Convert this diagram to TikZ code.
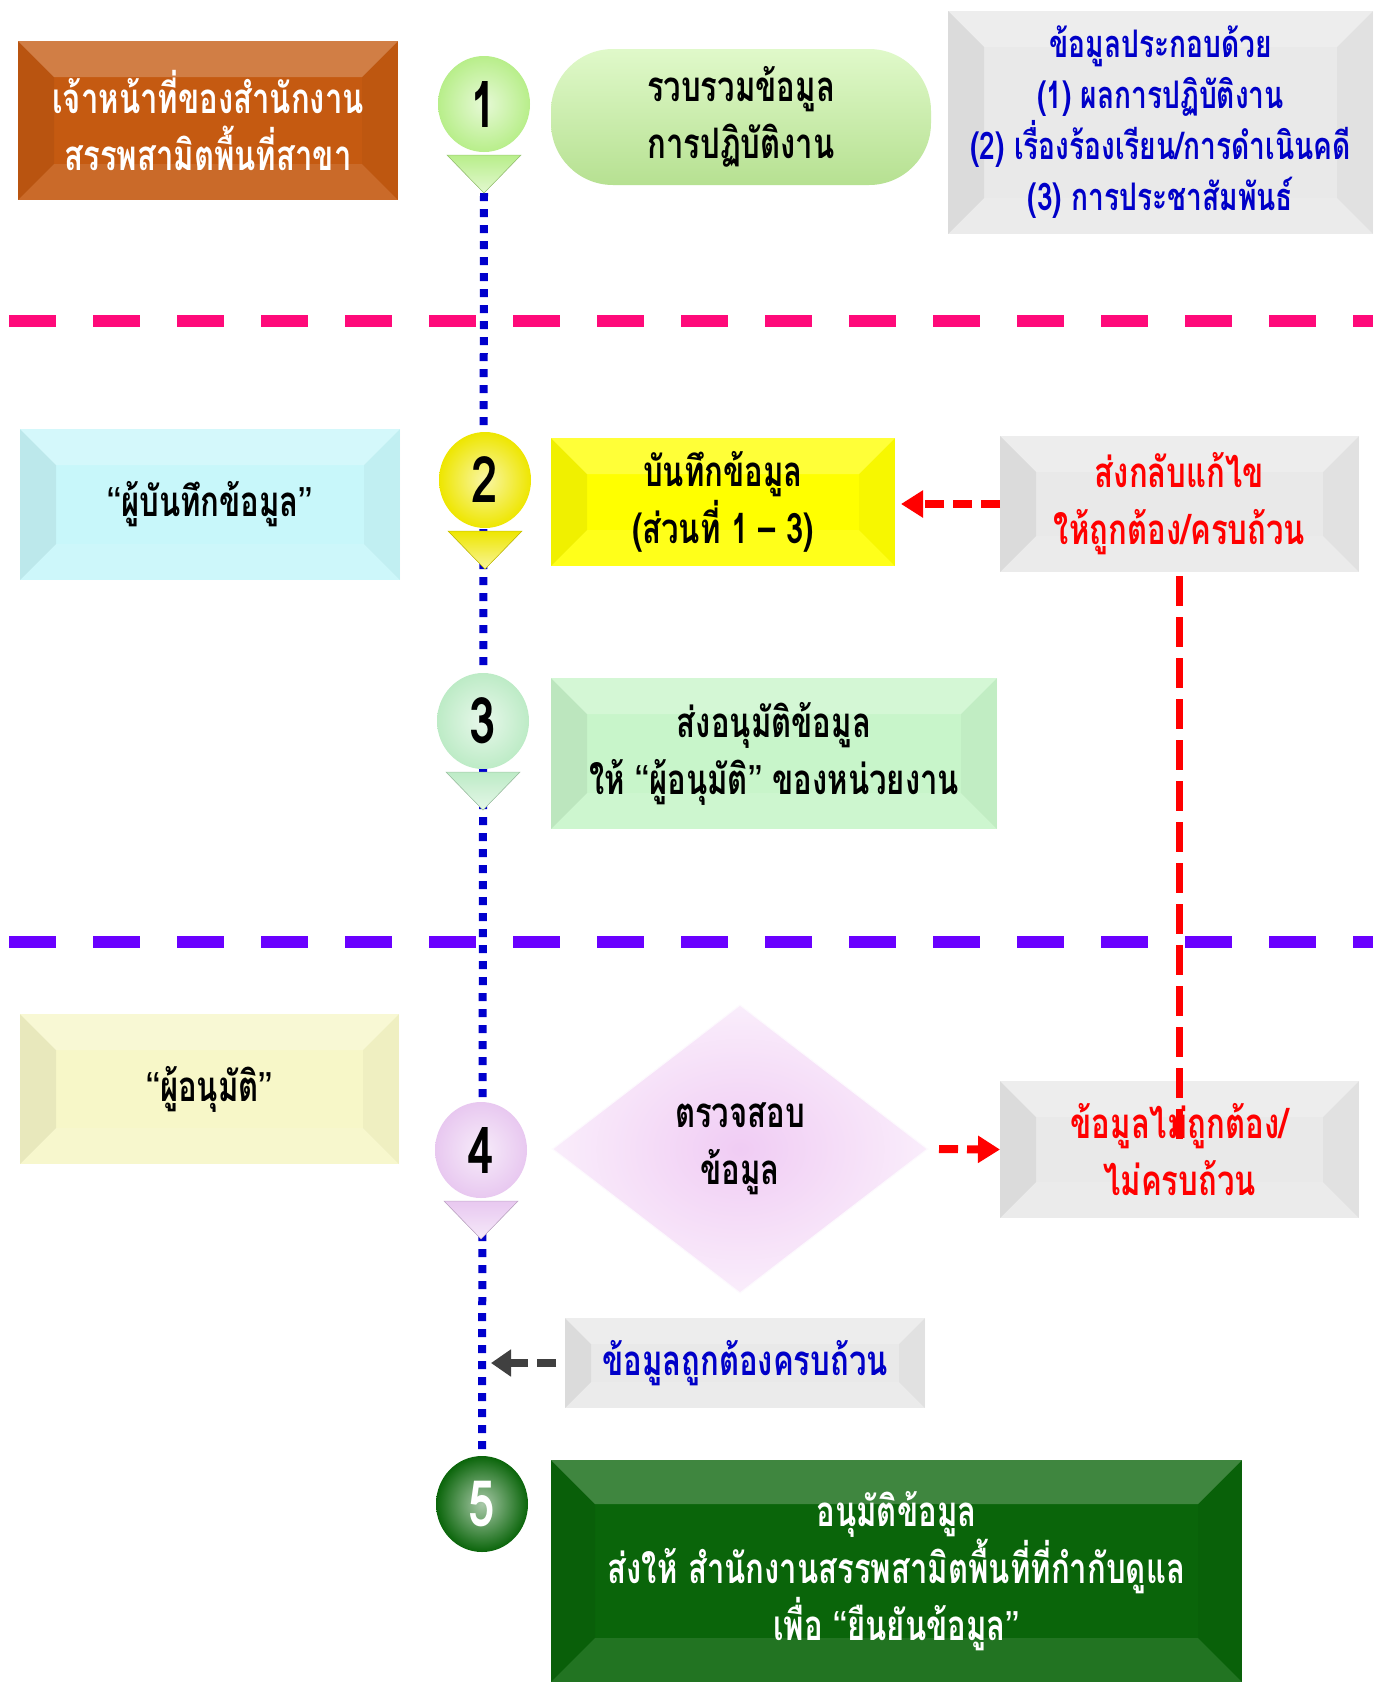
\documentclass[tikz,border=0pt]{standalone}
\usepackage{fontspec}
\setmainfont{Loma}[Script=Thai,FakeStretch=0.74]
\newfontfamily\quotefont{Liberation Sans}
\usetikzlibrary{arrows.meta,shapes.geometric,backgrounds,calc}
\definecolor{cOrange}{HTML}{C55A11}
\definecolor{cPill}{HTML}{C6F49E}
\definecolor{cGray}{HTML}{E9E9E9}
\definecolor{cCyan}{HTML}{C8F7FA}
\definecolor{cYel}{HTML}{FFFF00}
\definecolor{cMint}{HTML}{C8F5CA}
\definecolor{cCream}{HTML}{F7F7C8}
\definecolor{cLila}{HTML}{F0CCF4}
\definecolor{cDkGreen}{HTML}{0A650A}
\definecolor{cBall1}{HTML}{B8EE8A}
\definecolor{cBall2}{HTML}{EEE600}
\definecolor{cBall3}{HTML}{BDEBC6}
\definecolor{cBall4}{HTML}{E8C8F0}
\definecolor{cBlueTxt}{HTML}{0000C8}
\definecolor{cRedTxt}{HTML}{FF0000}
\definecolor{cFlow}{HTML}{0000CC}
\definecolor{cPinkSep}{HTML}{FF0A7A}
\definecolor{cVioSep}{HTML}{6A00FF}
\definecolor{cArrow}{HTML}{404040}
\newcommand{\oq}{{\quotefont\mdseries“}}
\newcommand{\cq}{{\quotefont\mdseries”}}
\tikzset{
  bevel/.style={path picture={
      \coordinate (bvnw) at (path picture bounding box.north west);
      \coordinate (bvne) at (path picture bounding box.north east);
      \coordinate (bvsw) at (path picture bounding box.south west);
      \coordinate (bvse) at (path picture bounding box.south east);
      \fill[white,opacity=.22] (bvnw) -- (bvne) -- ([shift={(-#1,-#1)}]bvne)
        -- ([shift={(#1,-#1)}]bvnw) -- cycle;
      \fill[black,opacity=.06] (bvnw) -- ([shift={(#1,-#1)}]bvnw)
        -- ([shift={(#1,#1)}]bvsw) -- (bvsw) -- cycle;
      \fill[black,opacity=.03] (bvne) -- ([shift={(-#1,-#1)}]bvne)
        -- ([shift={(-#1,#1)}]bvse) -- (bvse) -- cycle;
      \fill[white,opacity=.10] (bvsw) -- ([shift={(#1,#1)}]bvsw)
        -- ([shift={(-#1,#1)}]bvse) -- (bvse) -- cycle;}},
  plainbox/.style={rectangle,inner sep=0pt,outer sep=0pt,align=center,
      font=\bfseries\fontsize{42}{57}\selectfont},
  box/.style={plainbox,bevel=36pt},
  greybox/.style={box,fill=cGray},
  stepball/.style={ellipse,minimum width=92pt,minimum height=96pt,inner sep=0pt,
      outer sep=0pt,font=\bfseries\fontsize{64}{64}\selectfont},
  flowline/.style={draw=cFlow,line width=8pt,dash pattern=on 8pt off 8pt},
  sepline/.style={line width=12pt,dash pattern=on 47pt off 37pt},
  fixline/.style={draw=cRedTxt,line width=7pt,dash pattern=on 30pt off 11pt},
  fixarrow/.style={draw=cRedTxt,line width=8pt,dash pattern=on 19pt off 9pt,
      -{Triangle[length=22pt,width=26pt]}},
  okarrow/.style={draw=cArrow,line width=8pt,dash pattern=on 19pt off 9pt,
      -{Triangle[length=20pt,width=26pt]}},
}
\newcommand{\stepdot}[6]{%
  \node[stepball,shading=radial,inner color=#4!35!white,outer color=#4,text=#5]
    (#1) at (#2,#3) {#6};}
\newcommand{\steptip}[2]{%
  \fill[top color=#2,bottom color=#2!40!white,draw=#2!85!black,line width=0.5pt]
    ([xshift=-37pt,yshift=-3pt]#1.south) -- ([xshift=37pt,yshift=-3pt]#1.south)
    -- ([yshift=-41pt]#1.south) -- cycle;}

\begin{document}
\begin{tikzpicture}[x=1pt,y=-1pt]
  \useasboundingbox (0,0) rectangle (1384,1682);
  \begin{scope}[on background layer]
    \fill[white] (0,0) rectangle (1384,1682);
    \draw[sepline,draw=cPinkSep] (9,321) -- (1373,321);
    \draw[sepline,draw=cVioSep] (9,942) -- (1373,942);
  \end{scope}

  \node[box,fill=cOrange,text=white,minimum width=380pt,minimum height=159pt]
    (office) at (208,120.5) {เจ้าหน้าที่ของสำนักงาน\\สรรพสามิตพื้นที่สาขา};
  \node[plainbox,top color=cPill!55!white,bottom color=cPill!92!black,rounded corners=62pt,
    minimum width=380pt,minimum height=136pt] (collect) at (741,117)
    {รวบรวมข้อมูล\\การปฏิบัติงาน};
  \node[greybox,text=cBlueTxt,font=\bfseries\fontsize{38}{51}\selectfont,
    minimum width=425pt,minimum height=223pt] (info) at (1160.5,122.5)
    {ข้อมูลประกอบด้วย\\(1) ผลการปฏิบัติงาน\\(2) เรื่องร้องเรียน/การดำเนินคดี\\(3) การประชาสัมพันธ์};

  \node[box,fill=cCyan,minimum width=380pt,minimum height=151pt] (recorder)
    at (210,504.5) {\oq ผู้บันทึกข้อมูล\cq};
  \node[box,fill=cYel,minimum width=344pt,minimum height=128pt] (record)
    at (723,502) {บันทึกข้อมูล\\(ส่วนที่ 1 – 3)};
  \node[greybox,text=cRedTxt,minimum width=359pt,minimum height=136pt] (sendback)
    at (1179.5,504) {ส่งกลับแก้ไข\\ให้ถูกต้อง/ครบถ้วน};
  \node[box,fill=cMint,minimum width=446pt,minimum height=151pt] (submit)
    at (774,753.5) {ส่งอนุมัติข้อมูล\\ให้ \oq ผู้อนุมัติ\cq\ ของหน่วยงาน};

  \node[box,fill=cCream,minimum width=379pt,minimum height=150pt] (approver)
    at (209.5,1089) {\oq ผู้อนุมัติ\cq};
  \node[diamond,shading=radial,inner color=cLila,outer color=cLila!35!white,
    draw=white!88!cLila,line width=1pt,inner sep=0pt,align=center,
    font=\bfseries\fontsize{42}{57}\selectfont,minimum width=375pt,
    minimum height=288pt] (check) at (740,1149) {ตรวจสอบ\\ข้อมูล};
  \node[greybox,text=cRedTxt,minimum width=359pt,minimum height=137pt] (wrong)
    at (1179.5,1149.5) {ข้อมูลไม่ถูกต้อง/\\ไม่ครบถ้วน};
  \node[greybox,text=cBlueTxt,bevel=26pt,minimum width=360pt,minimum height=90pt]
    (correct) at (745,1363) {ข้อมูลถูกต้องครบถ้วน};
  \node[box,fill=cDkGreen,text=white,bevel=44pt,minimum width=691pt,
    minimum height=222pt] (approve) at (896.5,1571)
    {อนุมัติข้อมูล\\ส่งให้ สำนักงานสรรพสามิตพื้นที่ที่กำกับดูแล\\เพื่อ \oq ยืนยันข้อมูล\cq};

  \stepdot{s1}{484}{104}{cBall1}{black}{1}
  \stepdot{s2}{485}{480}{cBall2}{black}{2}
  \stepdot{s3}{483}{721}{cBall3}{black}{3}
  \stepdot{s4}{481}{1150}{cBall4}{black}{4}
  \stepdot{s5}{482}{1504}{cDkGreen}{white}{5}
  \steptip{s1}{cBall1}
  \steptip{s2}{cBall2}
  \steptip{s3}{cBall3}
  \steptip{s4}{cBall4}

  \begin{scope}[on background layer]
    \draw[flowline] ([yshift=-41pt]s1.south) -- (s5.north);
  \end{scope}

  \draw[fixarrow,shorten >=6pt] (sendback.west) -- (sendback.west -| record.east);
  \draw[fixline,shorten <=4pt] (sendback.south) -- ([yshift=-60pt]wrong.north);
  \draw[fixarrow,shorten <=11pt] (check.east) -- (wrong.west);
  \draw[okarrow,shorten <=9pt,shorten >=9pt] (correct.west) -- (correct.west -| s5.center);
\end{tikzpicture}
\end{document}
